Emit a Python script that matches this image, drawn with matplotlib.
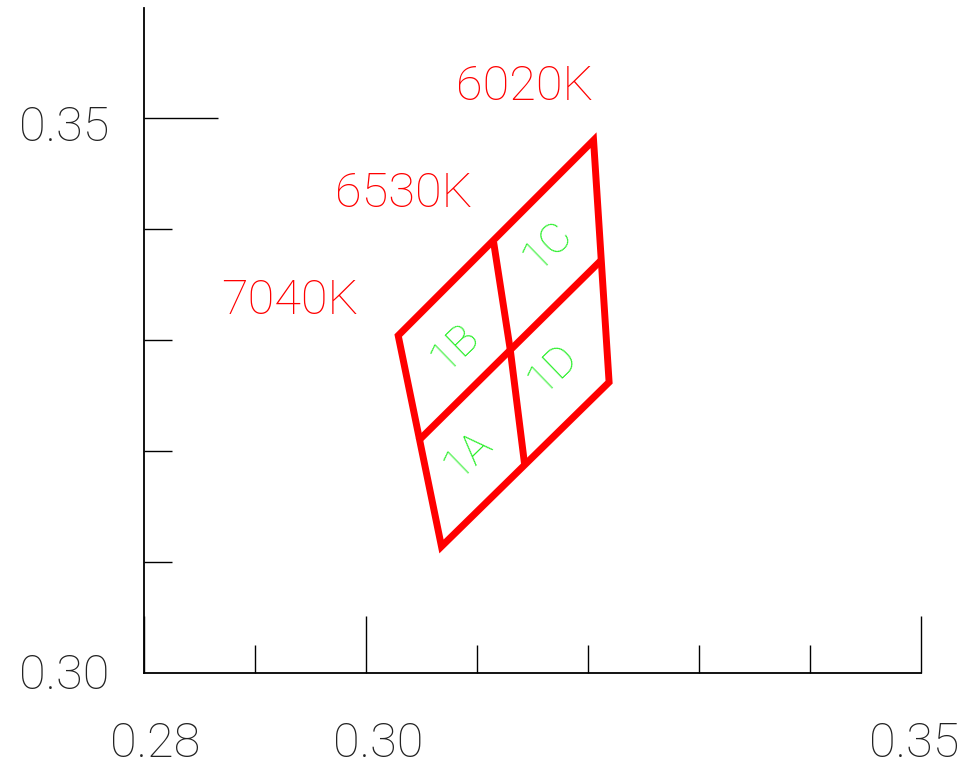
import matplotlib
matplotlib.use("Agg")
import matplotlib.pyplot as plt
from matplotlib.patches import Polygon
from matplotlib.transforms import offset_copy

# quadrangle corners (CIE x, y): left, top, right, bottom
quad_x = [0.3029, 0.3205, 0.3219, 0.3068]
quad_y = [0.3304, 0.3480, 0.3262, 0.3114]

# 6530K isotherm through the middle
cct_mid_x = [0.3115, 0.3130, 0.3143]
cct_mid_y = [0.3388, 0.3291, 0.3187]

# middle line across the isotherms
duv_mid_x = [0.3047, 0.3130, 0.3212]
duv_mid_y = [0.3209, 0.3291, 0.3372]

cct_labels = ["7040K", "6530K", "6020K"]
cct_label_x = [0.2931, 0.3034, 0.3143]
cct_label_y = [0.3323, 0.3420, 0.3516]

bin_labels = ["1A", "1B", "1C", "1D"]
bin_x = [0.3092, 0.3080, 0.3164, 0.3168]
bin_y = [0.3197, 0.3293, 0.3385, 0.3274]

x_major = [0.28, 0.30, 0.35]
x_minor = [0.29, 0.31, 0.32, 0.33, 0.34]
y_major = [0.30, 0.35]
y_minor = [0.31, 0.32, 0.33, 0.34]

FONT = "Roboto"
W = 100

fig = plt.figure(figsize=(9.68, 7.69), dpi=100)
ax = fig.add_axes([144 / 968, 96 / 769, 777 / 968, 665 / 769])
ax.set_xlim(0.28, 0.35)
ax.set_ylim(0.30, 0.30 + 665 / 11100)

for s in ["top", "right"]:
    ax.spines[s].set_visible(False)
for s in ["left", "bottom"]:
    ax.spines[s].set_linewidth(1.3)

ax.set_xticks(x_major)
ax.set_xticks(x_minor, minor=True)
ax.set_yticks([0.35])
ax.set_yticks(y_minor, minor=True)
ax.set_xticklabels([])
ax.set_yticklabels([])
ax.tick_params(axis="x", which="major", direction="in", length=41, width=1.0)
ax.tick_params(axis="y", which="major", direction="in", length=53, width=1.0)
ax.tick_params(which="minor", direction="in", length=20, width=1.0)

# tick labels
x_dx = [11, 12, -7]
for v, dx in zip(x_major, x_dx):
    tr = offset_copy(ax.get_xaxis_transform(), fig=fig, x=dx, y=-84, units="dots")
    ax.text(v, 0, f"{v:.2f}", transform=tr, ha="center", va="baseline",
            fontsize=35, family=FONT, fontweight=W, color="#222222")
y_dy = [-16, -23]
for v, dy in zip(y_major, y_dy):
    tr = offset_copy(ax.get_yaxis_transform(), fig=fig, x=-35, y=dy, units="dots")
    ax.text(0, v, f"{v:.2f}", transform=tr, ha="right", va="baseline",
            fontsize=35, family=FONT, fontweight=W, color="#222222")

red = "#ff0000"
quad = Polygon(list(zip(quad_x, quad_y)), closed=True, fill=False,
               edgecolor=red, linewidth=5, joinstyle="miter")
ax.add_patch(quad)
ax.plot(cct_mid_x, cct_mid_y, color=red, lw=5, solid_capstyle="butt")
ax.plot(duv_mid_x, duv_mid_y, color=red, lw=5, solid_capstyle="butt")

for t, x, y in zip(cct_labels, cct_label_x, cct_label_y):
    ax.text(x, y, t, ha="center", va="baseline", fontsize=35, family=FONT,
            fontweight=W, color=red)

for t, x, y in zip(bin_labels, bin_x, bin_y):
    ax.text(x, y, t, ha="center", va="center", rotation=44,
            rotation_mode="anchor", fontsize=31, family=FONT, fontweight=W,
            color="#22ee22")

fig.savefig("out.png", dpi=100)
